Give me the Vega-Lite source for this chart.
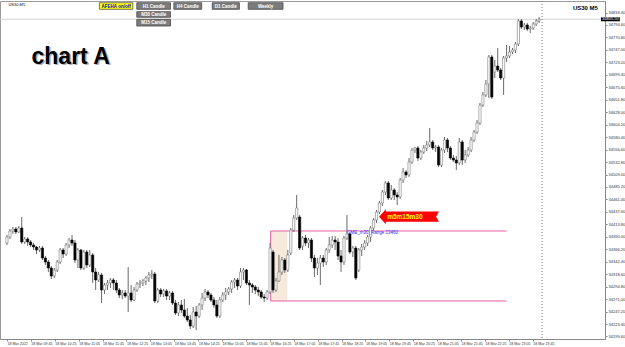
{
"$schema":"https://vega.github.io/schema/vega-lite/v6.json",
"width":605,"height":338,"autosize":{"type":"none"},
"padding":{"left":0,"top":1,"right":20,"bottom":8},
"background":"#ffffff",
"config":{"view":{"stroke":"#9a9a9a"},"font":"Liberation Sans","axis":{"labelOverlap":false,"labelFlush":false,"grid":false}},
"datasets":{
"one":[{}],
"candles":[
{"i":0,"o":34378.2,"h":34393.5,"l":34374.4,"c":34389.6},
{"i":1,"o":34389.6,"h":34404.9,"l":34385.8,"c":34401.1},
{"i":2,"o":34401.1,"h":34408.7,"l":34395.4,"c":34404.9},
{"i":3,"o":34404.9,"h":34408.7,"l":34395.4,"c":34399.2},
{"i":4,"o":34399.2,"h":34410.6,"l":34397.3,"c":34406.8},
{"i":5,"o":34406.8,"h":34427.8,"l":34376.3,"c":34380.1},
{"i":6,"o":34380.1,"h":34389.6,"l":34376.3,"c":34385.8},
{"i":7,"o":34385.8,"h":34389.6,"l":34372.4,"c":34380.1},
{"i":8,"o":34380.1,"h":34383.9,"l":34370.5,"c":34374.4},
{"i":9,"o":34374.4,"h":34378.2,"l":34364.8,"c":34370.5},
{"i":10,"o":34370.5,"h":34372.4,"l":34357.2,"c":34364.8},
{"i":11,"o":34364.8,"h":34372.4,"l":34361.0,"c":34368.6},
{"i":12,"o":34368.6,"h":34372.4,"l":34345.7,"c":34349.5},
{"i":13,"o":34349.5,"h":34353.3,"l":34336.2,"c":34341.9},
{"i":14,"o":34341.9,"h":34345.7,"l":34322.8,"c":34330.4},
{"i":15,"o":34330.4,"h":34334.2,"l":34309.4,"c":34315.1},
{"i":16,"o":34315.1,"h":34330.4,"l":34311.3,"c":34326.6},
{"i":17,"o":34326.6,"h":34345.7,"l":34322.8,"c":34341.9},
{"i":18,"o":34341.9,"h":34368.6,"l":34338.1,"c":34364.8},
{"i":19,"o":34364.8,"h":34368.6,"l":34349.5,"c":34357.2},
{"i":20,"o":34357.2,"h":34378.2,"l":34353.3,"c":34374.4},
{"i":21,"o":34374.4,"h":34387.7,"l":34368.6,"c":34383.9},
{"i":22,"o":34383.9,"h":34393.5,"l":34372.4,"c":34378.2},
{"i":23,"o":34378.2,"h":34383.9,"l":34340.0,"c":34345.7},
{"i":24,"o":34345.7,"h":34368.6,"l":34330.4,"c":34364.8},
{"i":25,"o":34364.8,"h":34366.7,"l":34326.6,"c":34330.4},
{"i":26,"o":34330.4,"h":34364.8,"l":34326.6,"c":34361.0},
{"i":27,"o":34361.0,"h":34364.8,"l":34330.4,"c":34336.2},
{"i":28,"o":34336.2,"h":34364.8,"l":34332.3,"c":34355.3},
{"i":29,"o":34355.3,"h":34359.1,"l":34301.8,"c":34322.8},
{"i":30,"o":34322.8,"h":34330.4,"l":34288.4,"c":34307.5},
{"i":31,"o":34307.5,"h":34322.8,"l":34303.7,"c":34317.1},
{"i":32,"o":34317.1,"h":34320.9,"l":34263.6,"c":34288.4},
{"i":33,"o":34288.4,"h":34301.8,"l":34280.8,"c":34298.0},
{"i":34,"o":34298.0,"h":34307.5,"l":34288.4,"c":34301.8},
{"i":35,"o":34301.8,"h":34311.3,"l":34292.2,"c":34307.5},
{"i":36,"o":34307.5,"h":34311.3,"l":34288.4,"c":34301.8},
{"i":37,"o":34301.8,"h":34307.5,"l":34282.7,"c":34288.4},
{"i":38,"o":34288.4,"h":34292.2,"l":34273.1,"c":34278.9},
{"i":39,"o":34278.9,"h":34288.4,"l":34271.2,"c":34282.7},
{"i":40,"o":34282.7,"h":34288.4,"l":34273.1,"c":34276.9},
{"i":41,"o":34276.9,"h":34332.3,"l":34246.4,"c":34282.7},
{"i":42,"o":34282.7,"h":34298.0,"l":34265.5,"c":34269.3},
{"i":43,"o":34269.3,"h":34294.1,"l":34267.4,"c":34288.4},
{"i":44,"o":34288.4,"h":34303.7,"l":34284.6,"c":34299.9},
{"i":45,"o":34299.9,"h":34307.5,"l":34292.2,"c":34301.8},
{"i":46,"o":34301.8,"h":34309.4,"l":34296.0,"c":34305.6},
{"i":47,"o":34305.6,"h":34315.1,"l":34298.0,"c":34311.3},
{"i":48,"o":34311.3,"h":34322.8,"l":34303.7,"c":34317.1},
{"i":49,"o":34317.1,"h":34326.6,"l":34309.4,"c":34319.0},
{"i":50,"o":34319.0,"h":34322.8,"l":34263.6,"c":34267.4},
{"i":51,"o":34267.4,"h":34292.2,"l":34263.6,"c":34288.4},
{"i":52,"o":34288.4,"h":34292.2,"l":34275.0,"c":34280.8},
{"i":53,"o":34280.8,"h":34290.3,"l":34275.0,"c":34286.5},
{"i":54,"o":34286.5,"h":34290.3,"l":34269.3,"c":34276.9},
{"i":55,"o":34276.9,"h":34286.5,"l":34269.3,"c":34282.7},
{"i":56,"o":34282.7,"h":34286.5,"l":34259.8,"c":34263.6},
{"i":57,"o":34263.6,"h":34269.3,"l":34240.7,"c":34244.5},
{"i":58,"o":34244.5,"h":34265.5,"l":34238.7,"c":34259.8},
{"i":59,"o":34259.8,"h":34269.3,"l":34244.5,"c":34250.2},
{"i":60,"o":34250.2,"h":34271.2,"l":34234.9,"c":34238.7},
{"i":61,"o":34238.7,"h":34254.0,"l":34227.3,"c":34231.1},
{"i":62,"o":34231.1,"h":34240.7,"l":34213.9,"c":34219.6},
{"i":63,"o":34219.6,"h":34255.9,"l":34215.8,"c":34246.4},
{"i":64,"o":34246.4,"h":34257.8,"l":34212.0,"c":34238.7},
{"i":65,"o":34238.7,"h":34263.6,"l":34234.9,"c":34259.8},
{"i":66,"o":34259.8,"h":34282.7,"l":34250.2,"c":34273.1},
{"i":67,"o":34273.1,"h":34290.3,"l":34267.4,"c":34284.6},
{"i":68,"o":34284.6,"h":34288.4,"l":34273.1,"c":34278.9},
{"i":69,"o":34278.9,"h":34282.7,"l":34265.5,"c":34269.3},
{"i":70,"o":34269.3,"h":34275.0,"l":34254.0,"c":34259.8},
{"i":71,"o":34259.8,"h":34269.3,"l":34234.9,"c":34238.7},
{"i":72,"o":34238.7,"h":34275.0,"l":34234.9,"c":34269.3},
{"i":73,"o":34269.3,"h":34284.6,"l":34265.5,"c":34278.9},
{"i":74,"o":34278.9,"h":34292.2,"l":34269.3,"c":34284.6},
{"i":75,"o":34284.6,"h":34294.1,"l":34278.9,"c":34290.3},
{"i":76,"o":34290.3,"h":34307.5,"l":34282.7,"c":34303.7},
{"i":77,"o":34303.7,"h":34311.3,"l":34292.2,"c":34307.5},
{"i":78,"o":34307.5,"h":34311.3,"l":34288.4,"c":34296.0},
{"i":79,"o":34296.0,"h":34330.4,"l":34292.2,"c":34322.8},
{"i":80,"o":34322.8,"h":34330.4,"l":34307.5,"c":34326.6},
{"i":81,"o":34326.6,"h":34328.5,"l":34298.0,"c":34301.8},
{"i":82,"o":34301.8,"h":34307.5,"l":34259.8,"c":34298.0},
{"i":83,"o":34298.0,"h":34301.8,"l":34282.7,"c":34294.1},
{"i":84,"o":34294.1,"h":34298.0,"l":34280.8,"c":34288.4},
{"i":85,"o":34288.4,"h":34294.1,"l":34276.9,"c":34284.6},
{"i":86,"o":34284.6,"h":34288.4,"l":34271.2,"c":34275.0},
{"i":87,"o":34275.0,"h":34280.8,"l":34265.5,"c":34273.1},
{"i":88,"o":34273.1,"h":34288.4,"l":34269.3,"c":34284.6},
{"i":89,"o":34284.6,"h":34378.2,"l":34280.8,"c":34368.6},
{"i":90,"o":34361.0,"h":34364.8,"l":34282.7,"c":34288.4},
{"i":91,"o":34288.4,"h":34311.3,"l":34284.6,"c":34305.6},
{"i":92,"o":34305.6,"h":34355.3,"l":34303.7,"c":34322.8},
{"i":93,"o":34322.8,"h":34351.4,"l":34317.1,"c":34345.7},
{"i":94,"o":34345.7,"h":34349.5,"l":34320.9,"c":34326.6},
{"i":95,"o":34326.6,"h":34364.8,"l":34322.8,"c":34355.3},
{"i":96,"o":34359.1,"h":34406.8,"l":34355.3,"c":34403.0},
{"i":97,"o":34403.0,"h":34431.7,"l":34399.2,"c":34425.9},
{"i":98,"o":34425.9,"h":34469.9,"l":34422.1,"c":34445.0},
{"i":99,"o":34427.8,"h":34431.7,"l":34364.8,"c":34368.6},
{"i":100,"o":34372.4,"h":34391.5,"l":34364.8,"c":34387.7},
{"i":101,"o":34387.7,"h":34393.5,"l":34372.4,"c":34378.2},
{"i":102,"o":34378.2,"h":34387.7,"l":34368.6,"c":34383.9},
{"i":103,"o":34383.9,"h":34387.7,"l":34341.9,"c":34349.5},
{"i":104,"o":34349.5,"h":34355.3,"l":34313.2,"c":34330.4},
{"i":105,"o":34330.4,"h":34349.5,"l":34317.1,"c":34340.0},
{"i":106,"o":34340.0,"h":34355.3,"l":34298.0,"c":34349.5},
{"i":107,"o":34349.5,"h":34355.3,"l":34332.3,"c":34341.9},
{"i":108,"o":34341.9,"h":34368.6,"l":34336.2,"c":34364.8},
{"i":109,"o":34364.8,"h":34389.6,"l":34359.1,"c":34374.4},
{"i":110,"o":34374.4,"h":34391.5,"l":34368.6,"c":34383.9},
{"i":111,"o":34383.9,"h":34391.5,"l":34364.8,"c":34380.1},
{"i":112,"o":34380.1,"h":34387.7,"l":34345.7,"c":34353.3},
{"i":113,"o":34353.3,"h":34364.8,"l":34322.8,"c":34341.9},
{"i":114,"o":34341.9,"h":34391.5,"l":34336.2,"c":34387.7},
{"i":115,"o":34387.7,"h":34431.7,"l":34383.9,"c":34395.4},
{"i":116,"o":34395.4,"h":34399.2,"l":34357.2,"c":34361.0},
{"i":117,"o":34361.0,"h":34372.4,"l":34351.4,"c":34368.6},
{"i":118,"o":34368.6,"h":34372.4,"l":34307.5,"c":34311.3},
{"i":119,"o":34326.6,"h":34368.6,"l":34322.8,"c":34364.8},
{"i":120,"o":34364.8,"h":34376.3,"l":34353.3,"c":34370.5},
{"i":121,"o":34370.5,"h":34383.9,"l":34364.8,"c":34378.2},
{"i":122,"o":34378.2,"h":34393.5,"l":34372.4,"c":34389.6},
{"i":123,"o":34389.6,"h":34410.6,"l":34380.1,"c":34406.8},
{"i":124,"o":34406.8,"h":34425.9,"l":34403.0,"c":34422.1},
{"i":125,"o":34422.1,"h":34441.2,"l":34416.4,"c":34437.4},
{"i":126,"o":34437.4,"h":34458.4,"l":34433.6,"c":34454.6},
{"i":127,"o":34454.6,"h":34479.4,"l":34448.8,"c":34475.6},
{"i":128,"o":34475.6,"h":34496.6,"l":34469.9,"c":34492.8},
{"i":129,"o":34492.8,"h":34496.6,"l":34460.3,"c":34464.1},
{"i":130,"o":34464.1,"h":34489.0,"l":34460.3,"c":34479.4},
{"i":131,"o":34479.4,"h":34483.2,"l":34460.3,"c":34469.9},
{"i":132,"o":34469.9,"h":34475.6,"l":34450.8,"c":34466.0},
{"i":133,"o":34466.0,"h":34502.3,"l":34462.2,"c":34498.5},
{"i":134,"o":34498.5,"h":34521.4,"l":34492.8,"c":34513.8},
{"i":135,"o":34513.8,"h":34517.6,"l":34502.3,"c":34508.1},
{"i":136,"o":34508.1,"h":34540.5,"l":34504.2,"c":34532.9},
{"i":137,"o":34532.9,"h":34559.6,"l":34529.1,"c":34555.8},
{"i":138,"o":34555.8,"h":34561.5,"l":34550.1,"c":34559.6},
{"i":139,"o":34559.6,"h":34563.4,"l":34534.8,"c":34540.5},
{"i":140,"o":34540.5,"h":34555.8,"l":34536.7,"c":34552.0},
{"i":141,"o":34552.0,"h":34565.4,"l":34548.2,"c":34559.6},
{"i":142,"o":34559.6,"h":34573.0,"l":34553.9,"c":34565.4},
{"i":143,"o":34565.4,"h":34597.8,"l":34561.5,"c":34571.1},
{"i":144,"o":34571.1,"h":34574.9,"l":34555.8,"c":34559.6},
{"i":145,"o":34559.6,"h":34565.4,"l":34552.0,"c":34561.5},
{"i":146,"o":34561.5,"h":34565.4,"l":34523.3,"c":34527.2},
{"i":147,"o":34527.2,"h":34559.6,"l":34523.3,"c":34555.8},
{"i":148,"o":34555.8,"h":34580.6,"l":34550.1,"c":34574.9},
{"i":149,"o":34574.9,"h":34578.7,"l":34552.0,"c":34559.6},
{"i":150,"o":34559.6,"h":34563.4,"l":34536.7,"c":34540.5},
{"i":151,"o":34540.5,"h":34546.3,"l":34532.9,"c":34536.7},
{"i":152,"o":34536.7,"h":34544.3,"l":34517.6,"c":34531.0},
{"i":153,"o":34531.0,"h":34578.7,"l":34527.2,"c":34571.1},
{"i":154,"o":34571.1,"h":34574.9,"l":34527.2,"c":34536.7},
{"i":155,"o":34536.7,"h":34555.8,"l":34531.0,"c":34546.3},
{"i":156,"o":34546.3,"h":34561.5,"l":34542.4,"c":34555.8},
{"i":157,"o":34555.8,"h":34580.6,"l":34552.0,"c":34574.9},
{"i":158,"o":34574.9,"h":34594.0,"l":34571.1,"c":34590.2},
{"i":159,"o":34590.2,"h":34613.1,"l":34586.4,"c":34607.4},
{"i":160,"o":34607.4,"h":34645.6,"l":34603.6,"c":34641.8},
{"i":161,"o":34641.8,"h":34666.6,"l":34637.9,"c":34660.9},
{"i":162,"o":34660.9,"h":34689.5,"l":34657.0,"c":34681.9},
{"i":163,"o":34681.9,"h":34737.3,"l":34655.1,"c":34733.4},
{"i":164,"o":34733.4,"h":34737.3,"l":34653.2,"c":34657.0},
{"i":165,"o":34704.8,"h":34727.7,"l":34693.3,"c":34716.2},
{"i":166,"o":34716.2,"h":34750.6,"l":34704.8,"c":34708.6},
{"i":167,"o":34708.6,"h":34712.4,"l":34689.5,"c":34693.3},
{"i":168,"o":34693.3,"h":34735.3,"l":34660.9,"c":34731.5},
{"i":169,"o":34731.5,"h":34756.4,"l":34723.9,"c":34735.3},
{"i":170,"o":34735.3,"h":34754.4,"l":34731.5,"c":34743.0},
{"i":171,"o":34743.0,"h":34750.6,"l":34739.2,"c":34746.8},
{"i":172,"o":34746.8,"h":34762.1,"l":34741.1,"c":34758.3},
{"i":173,"o":34758.3,"h":34806.0,"l":34754.4,"c":34802.2},
{"i":174,"o":34802.2,"h":34806.0,"l":34786.9,"c":34790.7},
{"i":175,"o":34790.7,"h":34798.4,"l":34785.0,"c":34794.6},
{"i":176,"o":34794.6,"h":34798.4,"l":34783.1,"c":34786.9},
{"i":177,"o":34786.9,"h":34792.6,"l":34779.3,"c":34788.8},
{"i":178,"o":34788.8,"h":34800.3,"l":34785.0,"c":34796.5},
{"i":179,"o":34796.5,"h":34806.0,"l":34792.6,"c":34802.2},
{"i":180,"o":34802.2,"h":34809.8,"l":34798.4,"c":34805.5}
],
"buttons":[
{"label":"AFEHA on/off","kind":"y","x1":31.27,"x2":42.58,"p1":34837.1,"p2":34824.5,"pt":34827.6},
{"label":"H1 Candle","kind":"g","x1":43.91,"x2":55.32,"p1":34837.1,"p2":34824.5,"pt":34827.6},
{"label":"H4 Candle","kind":"g","x1":56.45,"x2":65.87,"p1":34837.1,"p2":34824.5,"pt":34827.6},
{"label":"D1 Candle","kind":"g","x1":69.43,"x2":78.61,"p1":34837.1,"p2":34824.5,"pt":34827.6},
{"label":"Weekly","kind":"g","x1":81.6,"x2":93.38,"p1":34837.1,"p2":34824.5,"pt":34827.6},
{"label":"M30 Candle","kind":"g","x1":43.91,"x2":55.32,"p1":34820.0,"p2":34809.3,"pt":34811.8},
{"label":"M15 Candle","kind":"g","x1":43.91,"x2":55.32,"p1":34805.4,"p2":34792.6,"pt":34796.0}
]
},
"layer":[
{"data":{"values":[{"x1":89.2,"x2":94.8,"p1":34401.1,"p2":34267.4}]},
 "mark":{"type":"rect","fill":"#f7eadd"},
 "encoding":{
  "x":{"field":"x1","type":"quantitative","title":null,"scale":{"domain":[-0.665,200.6],"nice":false,"zero":false},
   "axis":{"values":[0,8.084,16.168,24.252,32.336,40.42,48.504,56.588,64.672,72.756,80.84,88.924,97.008,105.092,113.176,121.26,129.344,137.428,145.512,153.596,161.68,169.764,177.848],
    "tickCount":200,
    "labelExpr":"round(datum.value/8.084)==0 ? '18 Mar 2022' : '18 Mar ' + (floor((545+40*round(datum.value/8.084))/60) < 10 ? '0' : '') + floor((545+40*round(datum.value/8.084))/60) + ':' + ((545+40*round(datum.value/8.084))%60 < 10 ? '0' : '') + (545+40*round(datum.value/8.084))%60",
    "labelAlign":"left","labelFontSize":3.6,"labelColor":"#333333","labelPadding":0,"tickSize":2,"tickColor":"#888888","domainColor":"#888888","grid":false,"labelOverlap":false,"labelFlush":false}},
  "x2":{"field":"x2"},
  "y":{"field":"p1","type":"quantitative","title":null,"scale":{"domain":[34194.8,34840.4],"nice":false,"zero":false},
   "axis":{"orient":"right","values":[34199.6,34223.4,34247.2,34271.0,34294.8,34318.6,34342.4,34366.2,34390.0,34413.8,34437.6,34461.4,34485.2,34509.0,34532.8,34556.6,34580.4,34604.2,34628.0,34651.8,34675.6,34699.4,34723.2,34747.0,34770.8,34794.6,34818.4],
    "tickCount":200,
    "format":".2f","labelFontSize":4,"labelColor":"#333333","labelPadding":1,"tickSize":2,"tickColor":"#888888","domainColor":"#888888","grid":false,"labelOverlap":false,"labelFlush":false}},
  "y2":{"field":"p2"}}},
{"data":{"values":[{"x1":89.2,"x2":169.0,"p":34401.1},{"x1":89.2,"x2":169.0,"p":34267.4}]},
 "mark":{"type":"rule","color":"#ec5f9f","strokeWidth":1},
 "encoding":{"x":{"field":"x1","type":"quantitative","title":null},"x2":{"field":"x2"},"y":{"field":"p","type":"quantitative","title":null}}},
{"data":{"values":[{"x":89.2,"p1":34401.1,"p2":34267.4}]},
 "mark":{"type":"rule","color":"#ec5f9f","strokeWidth":1},
 "encoding":{"x":{"field":"x","type":"quantitative","title":null},"y":{"field":"p1","type":"quantitative","title":null},"y2":{"field":"p2"}}},
{"data":{"name":"one"},
 "mark":{"type":"rule","color":"#d4d4d4","strokeWidth":1},
 "encoding":{"y":{"datum":34805.5,"type":"quantitative","title":null}}},
{"data":{"name":"one"},
 "mark":{"type":"rule","color":"#7a7a7a","strokeWidth":1,"strokeDash":[1,2]},
 "encoding":{"x":{"datum":181.0,"type":"quantitative","title":null}}},
{"data":{"name":"candles"},
 "mark":{"type":"rule","color":"#6a6a6a","strokeWidth":1},
 "encoding":{"x":{"field":"i","type":"quantitative","title":null},"y":{"field":"l","type":"quantitative","title":null},"y2":{"field":"h"}}},
{"data":{"name":"candles"},
 "mark":{"type":"bar","width":2.2,"strokeWidth":0.6},
 "encoding":{"x":{"field":"i","type":"quantitative","title":null},"y":{"field":"o","type":"quantitative","title":null},"y2":{"field":"c"},
  "fill":{"condition":{"test":"datum.c>=datum.o","value":"#ffffff"},"value":"#000000"},
  "stroke":{"condition":{"test":"datum.c>=datum.o","value":"#7a7a7a"},"value":"#000000"}}},
{"data":{"name":"one"},
 "mark":{"type":"text","text":"CME_m30_Range 13460","fontSize":4.5,"color":"#2b2bff","align":"left","baseline":"alphabetic"},
 "encoding":{"x":{"datum":115.1,"type":"quantitative","title":null},"y":{"datum":34394.5,"type":"quantitative","title":null}}},
{"data":{"name":"one"},
 "mark":{"type":"point","shape":"M-1,0 L-0.77,-0.25 L-0.77,-0.17 L1,-0.17 L0.9,0 L1,0.17 L-0.77,0.17 L-0.77,0.25 Z","size":3600,"filled":true,"color":"#ff0000","opacity":1,"strokeWidth":0},
 "encoding":{"x":{"datum":136.0,"type":"quantitative","title":null},"y":{"datum":34428.5,"type":"quantitative","title":null}}},
{"data":{"name":"one"},
 "mark":{"type":"text","text":"m5m15m30","fontSize":6.5,"fontWeight":"bold","color":"#ffff00","align":"center","baseline":"middle"},
 "encoding":{"x":{"datum":134.6,"type":"quantitative","title":null},"y":{"datum":34428.5,"type":"quantitative","title":null}}},
{"data":{"name":"buttons"},
 "mark":{"type":"rect","strokeWidth":0.8},
 "encoding":{"x":{"field":"x1","type":"quantitative","title":null},"x2":{"field":"x2"},"y":{"field":"p1","type":"quantitative","title":null},"y2":{"field":"p2"},
  "fill":{"condition":{"test":"datum.kind=='y'","value":"#ffff00"},"value":"#7c7c7c"},
  "stroke":{"condition":{"test":"datum.kind=='y'","value":"#555555"},"value":"#4a4a4a"}}},
{"data":{"name":"buttons"},
 "mark":{"type":"text","fontSize":4.5,"fontWeight":"bold","align":"center","baseline":"alphabetic"},
 "encoding":{"x":{"field":"xc","type":"quantitative","title":null},"y":{"field":"pt","type":"quantitative","title":null},"text":{"field":"label"},
  "color":{"condition":{"test":"datum.kind=='y'","value":"#0000cc"},"value":"#ffffff"}},
 "transform":[{"calculate":"(datum.x1+datum.x2)/2","as":"xc"}]},
{"data":{"name":"one"},
 "mark":{"type":"text","text":"chart A","fontSize":23,"fontWeight":"bold","color":"#8a8a8a","opacity":0.7,"align":"left","baseline":"alphabetic","dx":1.5,"dy":1.5},
 "encoding":{"x":{"datum":8.3,"type":"quantitative","title":null},"y":{"datum":34720.1,"type":"quantitative","title":null}}},
{"data":{"name":"one"},
 "mark":{"type":"text","text":"chart A","fontSize":23,"fontWeight":"bold","color":"#000000","align":"left","baseline":"alphabetic"},
 "encoding":{"x":{"datum":8.3,"type":"quantitative","title":null},"y":{"datum":34720.1,"type":"quantitative","title":null}}},
{"data":{"name":"one"},
 "mark":{"type":"text","text":"US30 M5","fontSize":6,"fontWeight":"bold","color":"#000000","align":"right","baseline":"alphabetic"},
 "encoding":{"x":{"datum":199.9,"type":"quantitative","title":null},"y":{"datum":34823.2,"type":"quantitative","title":null}}},
{"data":{"name":"one"},
 "mark":{"type":"text","text":"US30,M5","fontSize":4,"color":"#000000","align":"left","baseline":"alphabetic"},
 "encoding":{"x":{"datum":0.5,"type":"quantitative","title":null},"y":{"datum":34830.8,"type":"quantitative","title":null}}},
{"data":{"values":[{"x1":200.93,"x2":207.3,"p1":34809.3,"p2":34801.7}]},
 "mark":{"type":"rect","fill":"#000000"},
 "encoding":{"x":{"field":"x1","type":"quantitative","title":null},"x2":{"field":"x2"},"y":{"field":"p1","type":"quantitative","title":null},"y2":{"field":"p2"}}},
{"data":{"name":"one"},
 "mark":{"type":"text","text":"34805.50","fontSize":4,"color":"#ffffff","align":"left","baseline":"middle"},
 "encoding":{"x":{"datum":201.3,"type":"quantitative","title":null},"y":{"datum":34805.5,"type":"quantitative","title":null}}}
]
}
